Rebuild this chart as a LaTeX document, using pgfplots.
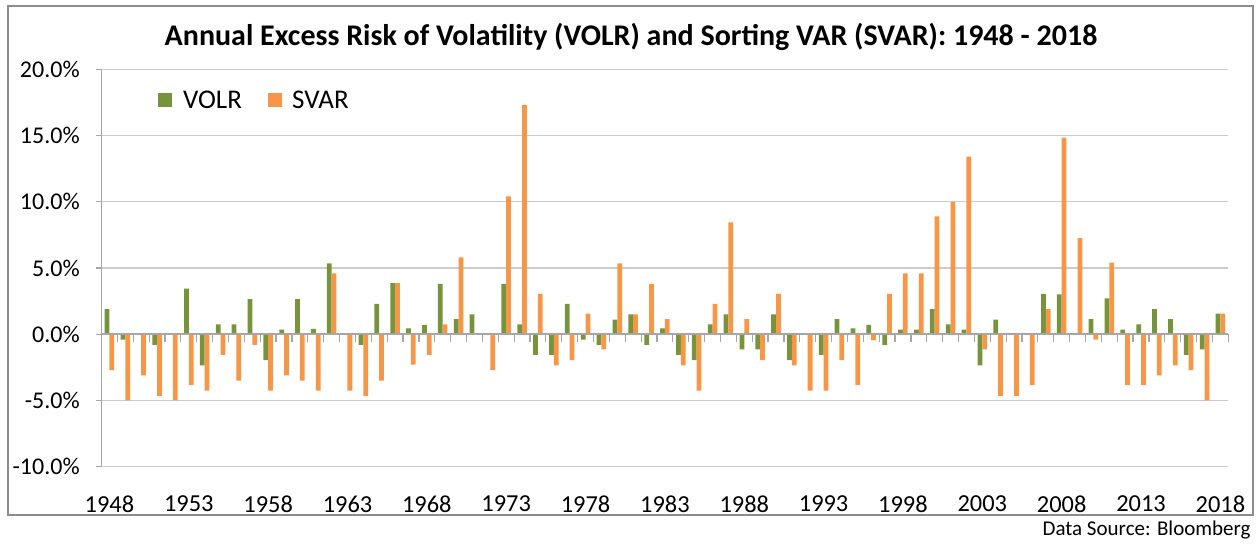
\documentclass[border=0pt]{standalone}
\usepackage{pgfplots}
\pgfplotsset{compat=1.18}
\usepackage{pgfplotstable}
\usepackage{fontspec}
\setmainfont{Carlito}
\definecolor{volr}{HTML}{77933C}
\definecolor{svar}{HTML}{F79646}
\definecolor{gridc}{HTML}{CCCCCC}
\definecolor{axisc}{HTML}{A6A6A6}
\definecolor{framec}{HTML}{8C8C8C}

\pgfplotstableread{
year volr svar
1948 1.9 -2.7
1949 -0.4 -5.0
1950 0 -3.1
1951 -0.8 -4.65
1952 -0.05 -5.0
1953 3.45 -3.85
1954 -2.35 -4.25
1955 0.75 -1.55
1956 0.75 -3.5
1957 2.65 -0.8
1958 -1.95 -4.25
1959 0.35 -3.1
1960 2.65 -3.5
1961 0.4 -4.25
1962 5.35 4.6
1963 -0.05 -4.25
1964 -0.8 -4.65
1965 2.3 -3.5
1966 3.85 3.85
1967 0.45 -2.3
1968 0.7 -1.55
1969 3.8 0.75
1970 1.15 5.8
1971 1.5 -0.05
1972 0 -2.7
1973 3.8 10.4
1974 0.75 17.3
1975 -1.55 3.05
1976 -1.55 -2.35
1977 2.3 -1.95
1978 -0.4 1.55
1979 -0.8 -1.15
1980 1.1 5.35
1981 1.5 1.5
1982 -0.8 3.8
1983 0.45 1.15
1984 -1.55 -2.35
1985 -1.95 -4.25
1986 0.75 2.3
1987 1.5 8.45
1988 -1.15 1.15
1989 -1.15 -1.95
1990 1.5 3.05
1991 -1.95 -2.35
1992 -0.05 -4.25
1993 -1.55 -4.25
1994 1.15 -1.95
1995 0.45 -3.85
1996 0.7 -0.45
1997 -0.8 3.05
1998 0.35 4.6
1999 0.35 4.6
2000 1.9 8.9
2001 0.75 10.0
2002 0.35 13.4
2003 -2.35 -1.15
2004 1.1 -4.65
2005 0 -4.65
2006 0 -3.85
2007 3.05 1.9
2008 3.0 14.85
2009 -0.05 7.25
2010 1.15 -0.4
2011 2.7 5.4
2012 0.35 -3.85
2013 0.75 -3.85
2014 1.9 -3.1
2015 1.15 -2.35
2016 -1.55 -2.7
2017 -1.15 -5.0
2018 1.55 1.55
}\data

\begin{document}
\begin{tikzpicture}
\useasboundingbox (0,0) rectangle (628pt,273pt);
\draw[framec, line width=1pt] (4pt,15.5pt) rectangle (626.5pt,270pt);
\node[anchor=base, inner sep=0pt, font=\fontsize{15}{18}\selectfont\bfseries] at (315.5pt,250.4pt) {Annual Excess Risk of Volatility (VOLR) and Sorting VAR (SVAR): 1948 - 2018};
\node[anchor=base east, inner sep=0pt, font=\fontsize{10.5}{12}\selectfont] at (625.5pt,5.5pt) {Data Source: Bloomberg};
\begin{axis}[
  at={(50.75pt,39.65pt)}, anchor=south west, scale only axis,
  width=563.4pt, height=198.7pt,
  xmin=1947.5, xmax=2018.5, ymin=-10, ymax=20,
  ytick={-10,-5,...,20},
  yticklabels={-10.0\%,-5.0\%,0.0\%,5.0\%,10.0\%,15.0\%,20.0\%},
  xtick={1948,1953,...,2018},
  xticklabels={1948,1953,1958,1963,1968,1973,1978,1983,1988,1993,1998,2003,2008,2013,2018},
  ymajorgrids, grid style={gridc, line width=0.6pt},
  separate axis lines,
  axis x line*=bottom, axis y line*=left,
  x axis line style={draw=none},
  y axis line style={axisc, line width=0.7pt},
  tick align=outside, ytick pos=left,
  major tick length=2.8pt,
  ytick style={axisc, line width=0.6pt},
  xtick style={draw=none},
  yticklabel style={font=\fontsize{12}{14}\selectfont, inner sep=0pt, anchor=east, xshift=-7.9pt},
  xticklabel style={font=\fontsize{12.2}{14}\selectfont, inner sep=0pt, anchor=north, yshift=-11.6pt},
]
\addplot[ybar, bar width=0.3, bar shift=-0.15, fill=volr, draw=none]
  table[x=year, y=volr]{\data};
\addplot[ybar, bar width=0.3, bar shift=0.15, fill=svar, draw=none]
  table[x=year, y=svar]{\data};
\end{axis}
\begin{axis}[
  at={(50.75pt,39.65pt)}, anchor=south west, scale only axis,
  width=563.4pt, height=198.7pt,
  xmin=1947.5, xmax=2018.5, ymin=-10, ymax=20,
  axis x line=middle, axis y line=none,
  x axis line style={axisc, line width=0.8pt, -},
  xtick={1947.5,1948.5,...,2018.5}, xticklabels={},
  ytick=\empty,
  tick align=outside, major tick length=3.85pt,
  xtick style={axisc, line width=0.6pt},
]
\end{axis}
% legend
\fill[volr] (79.15pt,219.65pt) rectangle (85.85pt,226.35pt);
\node[anchor=base west, inner sep=0pt, font=\fontsize{13.5}{16}\selectfont] at (91.35pt,218.85pt) {VOLR};
\fill[svar] (134.15pt,219.65pt) rectangle (140.85pt,226.35pt);
\node[anchor=base west, inner sep=0pt, font=\fontsize{13.5}{16}\selectfont] at (145.85pt,218.85pt) {SVAR};
\end{tikzpicture}
\end{document}
